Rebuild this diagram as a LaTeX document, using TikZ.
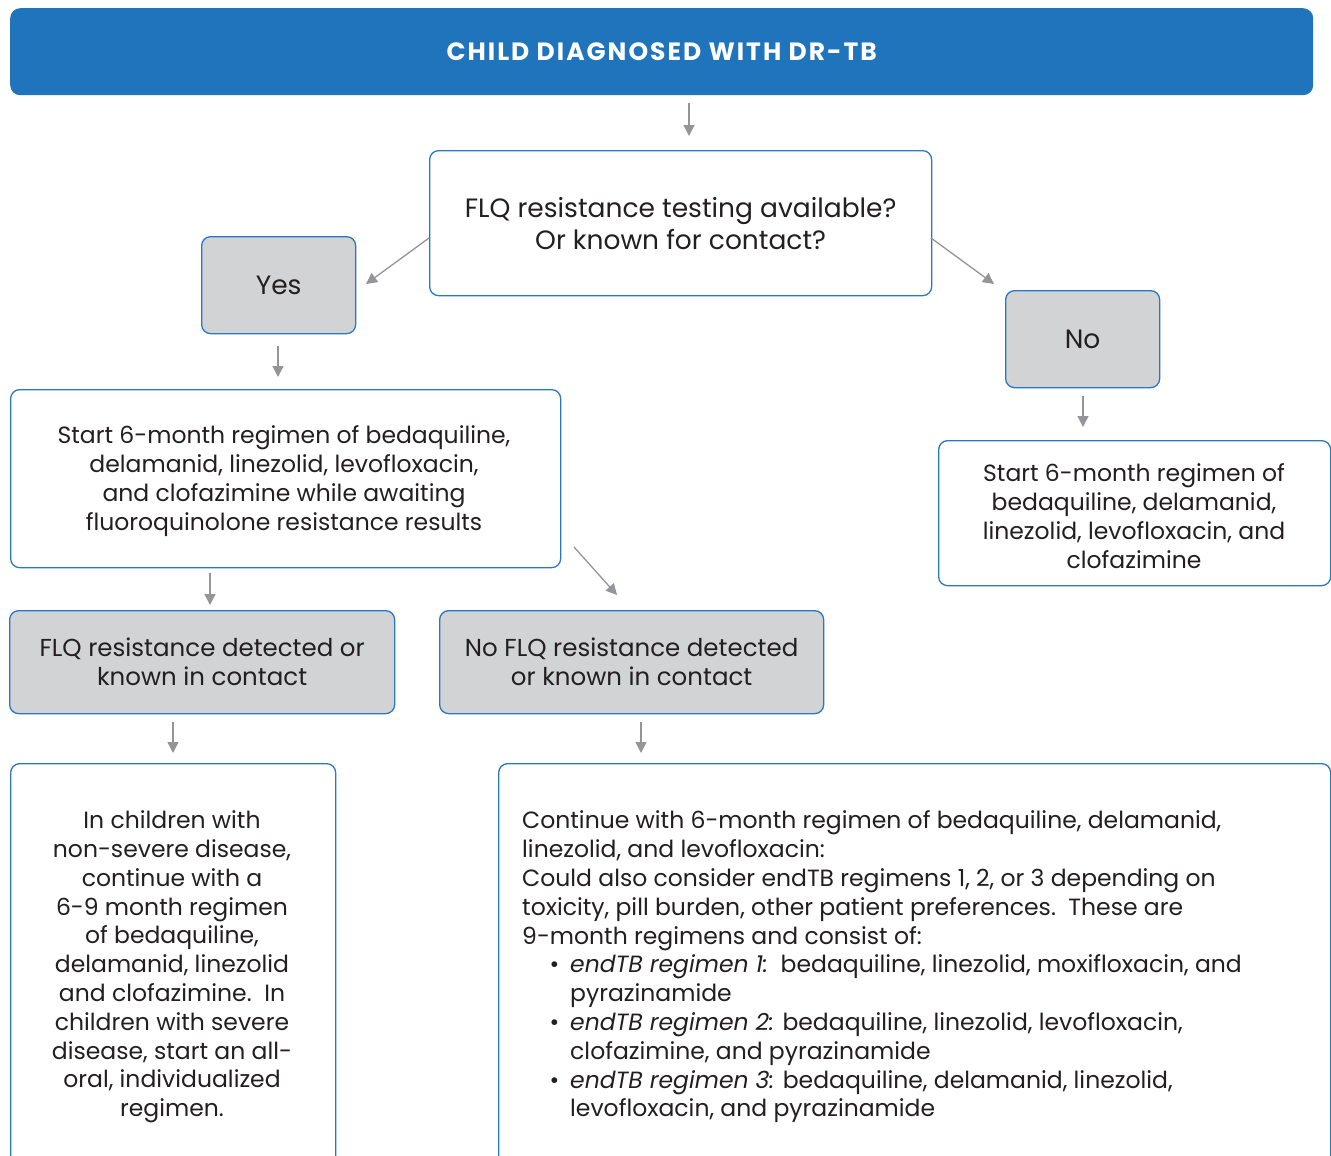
\documentclass[tikz,border=0pt]{standalone}
\usepackage{fontspec}
\setmainfont{Poppins}
\usetikzlibrary{arrows.meta}
\definecolor{hdrblue}{HTML}{1F74BC}
\definecolor{boxblue}{HTML}{2A78C2}
\definecolor{boxgray}{HTML}{D1D3D4}
\definecolor{arrgray}{HTML}{939598}
\definecolor{txtc}{HTML}{231F20}
\newcommand{\bitem}[1]{\hspace*{48pt}\llap{\textbullet\hspace{11pt}}#1}
\newcommand{\bcont}[1]{\hspace*{48pt}#1}
\begin{document}
\begin{tikzpicture}[x=1pt,y=-1pt,
  box/.style={draw=boxblue, line width=1.3pt, rounded corners=9pt, fill=white, anchor=north west, inner sep=0pt,
    text=txtc, font=\fontsize{23.5}{28.8}\selectfont, align=center},
  graybox/.style={box, fill=boxgray},
  txt/.style={text=txtc, font=\fontsize{23.5}{28.8}\selectfont, inner sep=0pt},
  arr/.style={draw=arrgray, line width=1.3pt, -{Triangle[length=11pt,width=11pt]}}]
\useasboundingbox (0,0) rectangle (1331,1156);
\clip (0,0) rectangle (1331,1156);
% title
\node[fill=hdrblue, rounded corners=10pt, anchor=north west, minimum width=1303pt, minimum height=87pt,
  inner sep=0pt, text=white, font=\fontsize{25}{28}\selectfont\bfseries\addfontfeature{LetterSpace=8}] (title) at (10,8) {CHILD DIAGNOSED WITH DR-TB};
% question
\node[box, minimum width=502pt, minimum height=145pt, font=\fontsize{26.5}{32}\selectfont] (q) at (429,150)
  {FLQ resistance testing available?\\Or known for contact?};
\node[graybox, minimum width=154pt, minimum height=97pt, font=\fontsize{26.5}{32}\selectfont] (yes) at (201,236) {Yes};
\node[graybox, minimum width=154pt, minimum height=97pt, font=\fontsize{26.5}{32}\selectfont] (no) at (1005,290) {No};
\node[box, minimum width=550pt, minimum height=178pt] (ls) at (10,389) {};
\node[txt, align=center] (lstxt) at (284,481)
  {Start 6-month regimen of bedaquiline,\\delamanid, linezolid, levofloxacin,\\and clofazimine while awaiting\\fluoroquinolone resistance results};
\node[box, minimum width=392pt, minimum height=145pt] (rs) at (938,440) {};
\node[txt, align=center] (rstxt) at (1134,516)
  {Start 6-month regimen of\\bedaquiline, delamanid,\\linezolid, levofloxacin, and\\clofazimine};
\node[graybox, minimum width=385pt, minimum height=103pt, font=\fontsize{24.5}{29}\selectfont] (flqy) at (9,610)
  {FLQ resistance detected or\\known in contact};
\node[graybox, minimum width=384pt, minimum height=103pt, font=\fontsize{24.5}{29}\selectfont] (flqn) at (439,610)
  {No FLQ resistance detected\\or known in contact};
\node[box, minimum width=325pt, minimum height=420pt] (bl) at (10,763) {};
\node[box, minimum width=832pt, minimum height=420pt] (br) at (498,763) {};
\node[txt, align=center] (bltxt) at (172,967)
  {In children with\\non-severe disease,\\continue with a\\6-9 month regimen\\of bedaquiline,\\delamanid, linezolid\\and clofazimine.\ \ In\\children with severe\\disease, start an all-\\oral, individualized\\regimen.};
\node[txt, align=left, anchor=west] (brtxt) at (522,967)
  {Continue with 6-month regimen of bedaquiline, delamanid,\\
   linezolid, and levofloxacin:\\
   Could also consider endTB regimens 1, 2, or 3 depending on\\
   toxicity, pill burden, other patient preferences.\ \ These are\\
   9-month regimens and consist of:\\
   \bitem{\textit{endTB regimen 1:}\ \ bedaquiline, linezolid, moxifloxacin, and}\\
   \bcont{pyrazinamide}\\
   \bitem{\textit{endTB regimen 2:} bedaquiline, linezolid, levofloxacin,}\\
   \bcont{clofazimine, and pyrazinamide}\\
   \bitem{\textit{endTB regimen 3:} bedaquiline, delamanid, linezolid,}\\
   \bcont{levofloxacin, and pyrazinamide}};
% arrows
\coordinate (a1s) at (689,103); \coordinate (a1e) at (689,136);
\coordinate (a2s) at (429,238); \coordinate (a2e) at (366,284);
\coordinate (a3s) at (931,238); \coordinate (a3e) at (994,284);
\coordinate (a4s) at (278,346); \coordinate (a4e) at (278,377);
\coordinate (a5s) at (1083,396); \coordinate (a5e) at (1083,427);
\coordinate (a6s) at (210,573); \coordinate (a6e) at (210,605);
\coordinate (a7s) at (574,547); \coordinate (a7e) at (617,595);
\coordinate (a8s) at (173,722); \coordinate (a8e) at (173,753);
\coordinate (a9s) at (641,722); \coordinate (a9e) at (641,753);
\foreach \i in {1,...,9} {\draw[arr] (a\i s) -- (a\i e);}
\end{tikzpicture}
\end{document}
